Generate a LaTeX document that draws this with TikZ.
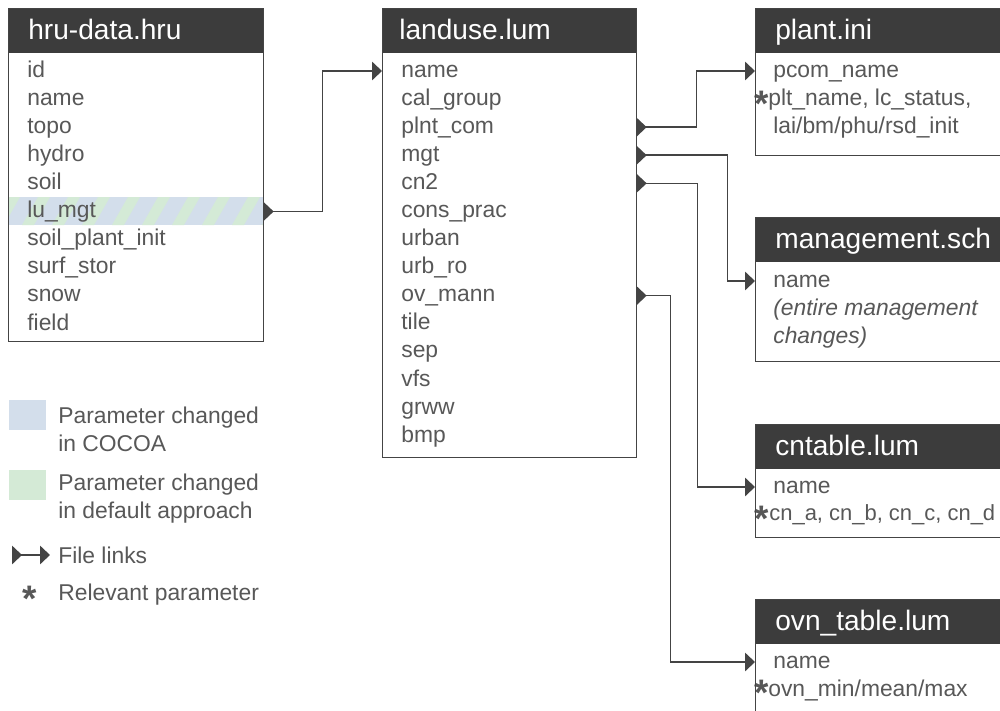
\documentclass[tikz,border=0pt]{standalone}
\usepackage{fontspec}
\setmainfont{Liberation Sans}
\usetikzlibrary{arrows.meta,positioning}

\definecolor{headgray}{HTML}{3C3C3C}
\definecolor{textgray}{HTML}{585858}
\definecolor{linegray}{HTML}{444444}
\definecolor{cocoablue}{HTML}{D3DEEB}
\definecolor{defgreen}{HTML}{D4EAD6}

\begin{document}
\begin{tikzpicture}[
    x = 0.02cm, y = -0.02cm, % one unit = one pixel of the sketch
    font = \fontsize{13pt}{15.9pt}\selectfont,
    text = textgray,
    link/.style = {draw = linegray, line width = 0.9pt,
      {Triangle[reversed, length = 0.2cm, width = 0.37cm]}-{Triangle[length = 0.2cm, width = 0.37cm]}}
    ]

    \tikzset{
    frame/.style = {draw = linegray, line width = 0.6pt, anchor = north west, inner sep = 0pt},
    head/.style = {fill = headgray, draw = headgray, text = white, anchor = north west,
      minimum height = 0.88cm, inner ysep = 0pt, inner xsep = 0.4cm, align = left,
      text height = 12.5pt, text depth = 2.5pt,
      font = \fontsize{16pt}{18pt}\selectfont},
    row/.style = {anchor = west, minimum height = 0.56cm, inner ysep = 0pt, align = left,
      text height = 10pt, text depth = 3pt},
    hrurow/.style = {row, inner xsep = 0.38cm, text width = 4.34cm},
    lumrow/.style = {row, inner xsep = 0.38cm, text width = 4.32cm},
    tabrow/.style = {row, inner xsep = 0.36cm},
    star/.style = {inner sep = 0pt, font = \fontsize{21pt}{21pt}\selectfont\bfseries},
    swatch/.style = {anchor = north west, minimum width = 0.74cm, minimum height = 0.6cm, inner sep = 0pt},
    legend/.style = {anchor = west, align = left, inner sep = 0pt}
    }

    \useasboundingbox (0, 0) rectangle (1000, 710);
    \clip (0, 0) rectangle (1000, 710);
    \fill[white] (0, 0) rectangle (1000, 710);

    % hru-data.hru
    \node[head, text width = 4.3cm] (hru-h) at (8, 8) {hru-data.hru};
    \begin{scope} % striped row: changed both ways
      \clip (8, 197) rectangle (263, 225);
      \fill[cocoablue] (8, 197) rectangle (263, 225);
      \foreach \s in {0, 30, ..., 270}
        \fill[defgreen] (\s - 8, 225) -- ++(12, 0) -- ++(16, -28) -- ++(-12, 0) -- cycle;
    \end{scope}
    \foreach \nm/\txt [count = \i from 0] in {id/id, name/name, topo/topo, hydro/hydro,
        soil/soil, lumgt/lu\_mgt, spi/soil\_plant\_init, stor/surf\_stor,
        snow/snow, field/field}
      \node[hrurow] (hru-\nm) at (8, 71 + 28.1*\i) {\txt};
    \node[frame, minimum width = 5.1cm, minimum height = 6.66cm] (hru) at (8, 8) {};

    % landuse.lum
    \node[head, text width = 4.4cm, inner xsep = 0.34cm] (lum-h) at (382, 8) {landuse.lum};
    \foreach \nm/\txt [count = \i from 0] in {name/name, cal/cal\_group, plntcom/plnt\_com,
        mgt/mgt, cn2/cn2, cons/cons\_prac, urban/urban, urbro/urb\_ro, ovmann/ov\_mann,
        tile/tile, sep/sep, vfs/vfs, grww/grww, bmp/bmp}
      \node[lumrow] (lum-\nm) at (382, 71 + 28.08*\i) {\txt};
    \node[frame, minimum width = 5.08cm, minimum height = 8.98cm] (lum) at (382, 8) {};

    % plant.ini
    \node[head, text width = 4.4cm] (plt-h) at (755, 8) {plant.ini};
    \node[tabrow] (plt-pcom) at (755, 71) {pcom\_name};
    \node[tabrow, inner xsep = 0.26cm] (plt-name) at (755, 99) {plt\_name, lc\_status,};
    \node[tabrow] (plt-init) at (755, 127) {lai/bm/phu/rsd\_init};
    \node[star] (plt-star) at (762, 104) {*};
    \node[frame, minimum width = 5.2cm, minimum height = 2.94cm] (plt) at (755, 8) {};

    % management.sch
    \node[head, text width = 4.4cm] (sch-h) at (755, 217) {management.sch};
    \node[tabrow] (sch-name) at (755, 281) {name};
    \node[tabrow] (sch-all) at (755, 309) {\itshape (entire management};
    \node[tabrow] (sch-chg) at (755, 337) {\itshape changes)};
    \node[frame, minimum width = 5.2cm, minimum height = 2.88cm] (sch) at (755, 217) {};

    % cntable.lum
    \node[head, text width = 4.4cm] (cn-h) at (755, 424) {cntable.lum};
    \node[tabrow] (cn-name) at (755, 487) {name};
    \node[tabrow, inner xsep = 0.28cm, font = \fontsize{12.5pt}{15.9pt}\selectfont] (cn-abcd) at (755, 514)
      {cn\_a, cn\_b, cn\_c, cn\_d};
    \node[star] (cn-star) at (762, 519) {*};
    \node[frame, minimum width = 5.2cm, minimum height = 2.26cm] (cn) at (755, 424) {};

    % ovn_table.lum
    \node[head, text width = 4.4cm] (ovn-h) at (755, 599) {ovn\_table.lum};
    \node[tabrow] (ovn-name) at (755, 662) {name};
    \node[tabrow, inner xsep = 0.26cm] (ovn-mmm) at (755, 690) {ovn\_min/mean/max};
    \node[star] (ovn-star) at (762, 693) {*};
    \node[frame, minimum width = 5.2cm, minimum height = 2.6cm] (ovn) at (755, 599) {};

    % file links
    \draw[link] (hru-lumgt.east) -- ++(59, 0) |- (lum-name.west);
    \draw[link] (lum-plntcom.east) -- ++(60, 0) |- (plt-pcom.west);
    \draw[link] (lum-mgt.east) -- ++(91, 0) |- (sch-name.west);
    \draw[link] (lum-cn2.east) -- ++(61, 0) |- (cn-name.west);
    \draw[link] (lum-ovmann.east) -- ++(34, 0) |- (ovn-name.west);

    % legend
    \node[swatch, fill = cocoablue] (key-cocoa) at (9, 400) {};
    \node[legend] (key-cocoa-t) at (58, 429) {Parameter changed\\in COCOA};
    \node[swatch, fill = defgreen] (key-def) at (9, 470) {};
    \node[legend] (key-def-t) at (58, 499) {Parameter changed\\in default approach};
    \coordinate (key-a) at (12, 555);
    \coordinate (key-b) at (50, 555);
    \draw[link] (key-a) -- (key-b);
    \node[legend] (key-link-t) at (58, 555) {File links};
    \node[star] (key-star) at (30, 599) {*};
    \node[legend] (key-star-t) at (58, 595) {Relevant parameter};
\end{tikzpicture}
\end{document}
